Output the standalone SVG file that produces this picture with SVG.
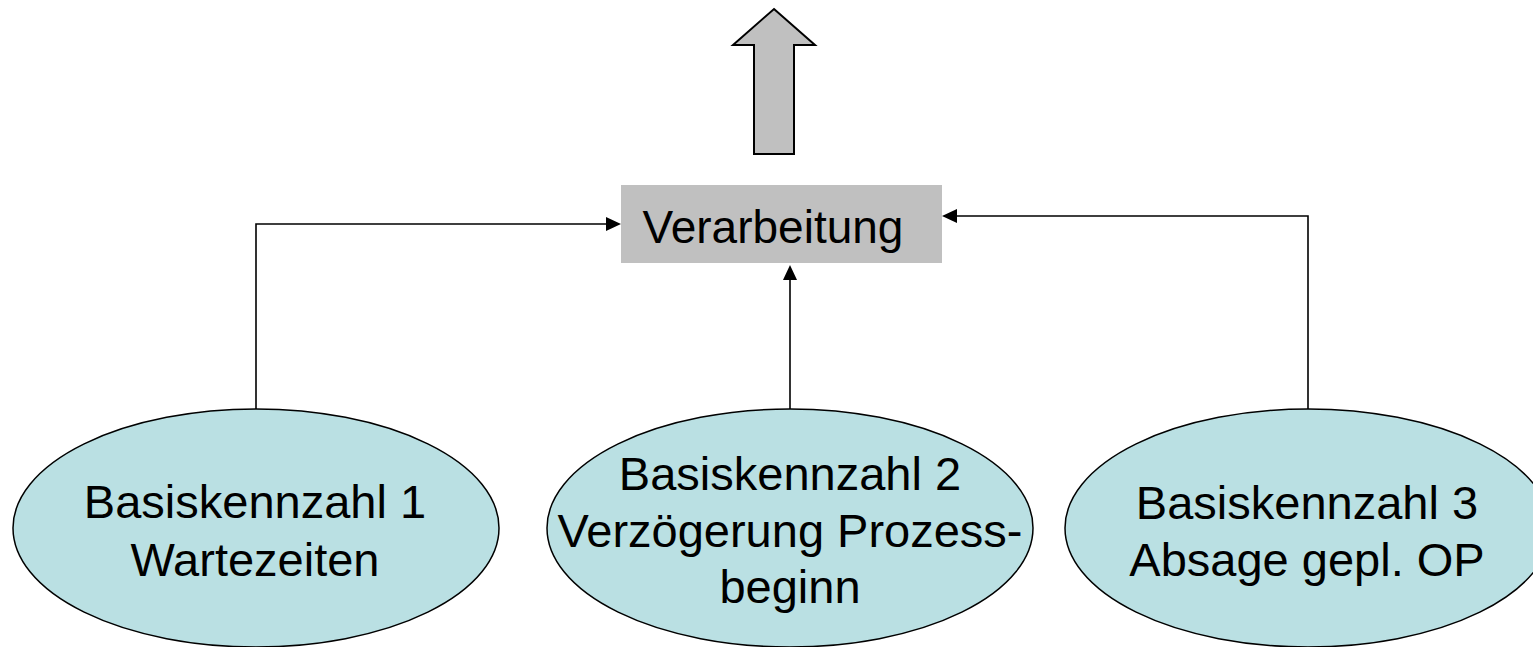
<svg xmlns="http://www.w3.org/2000/svg" width="1533" height="647" viewBox="0 0 1533 647">
  <style>
    .bg { fill: #ffffff; }
    .ellipse { fill: #bae0e3; stroke: #000000; stroke-width: 1.5; }
    .box { fill: #c0c0c0; stroke: none; }
    .bigarrow { fill: #c0c0c0; stroke: #000000; stroke-width: 2; stroke-linejoin: miter; }
    .conn { fill: none; stroke: #000000; stroke-width: 1.6; }
    .head { fill: #000000; stroke: none; }
    .label { font-family: "Liberation Sans", Arial, sans-serif; font-size: 47px; fill: #000000; text-anchor: middle; }
    .boxlabel { font-family: "Liberation Sans", Arial, sans-serif; font-size: 46px; fill: #000000; text-anchor: middle; }
  </style>
  <rect class="bg" x="0" y="0" width="1533" height="647"/>

  <!-- Output arrow above the processing box -->
  <g id="output-arrow">
    <path class="bigarrow" d="M774,9 L815,45 L794,45 L794,154 L754,154 L754,45 L733,45 Z"/>
  </g>

  <!-- Processing box -->
  <g id="verarbeitung">
    <rect class="box" x="621" y="185" width="321" height="78"/>
    <text class="boxlabel" x="773" y="243">Verarbeitung</text>
  </g>

  <!-- Connectors from the key figures to the processing box -->
  <g id="connectors">
    <path class="conn" d="M256,409 L256,224 L607,224"/>
    <path class="head" d="M606,217 L621,224 L606,231 Z"/>
    <path class="conn" d="M790,409 L790,279"/>
    <path class="head" d="M783,280 L790,265 L797,280 Z"/>
    <path class="conn" d="M1308,409 L1308,216 L956,216"/>
    <path class="head" d="M957,209 L942,216 L957,223 Z"/>
  </g>

  <!-- Key figure 1 -->
  <g id="basiskennzahl-1">
    <ellipse class="ellipse" cx="256" cy="528" rx="243" ry="119"/>
    <text class="label" x="255" y="518">Basiskennzahl 1</text>
    <text class="label" x="255" y="576">Wartezeiten</text>
  </g>

  <!-- Key figure 2 -->
  <g id="basiskennzahl-2">
    <ellipse class="ellipse" cx="790" cy="528" rx="243" ry="119"/>
    <text class="label" x="790" y="490">Basiskennzahl 2</text>
    <text class="label" x="790" y="547">Verzögerung Prozess-</text>
    <text class="label" x="790" y="603">beginn</text>
  </g>

  <!-- Key figure 3 -->
  <g id="basiskennzahl-3">
    <ellipse class="ellipse" cx="1308" cy="528" rx="243" ry="119"/>
    <text class="label" x="1307" y="519">Basiskennzahl 3</text>
    <text class="label" x="1307" y="576">Absage gepl. OP</text>
  </g>
</svg>
